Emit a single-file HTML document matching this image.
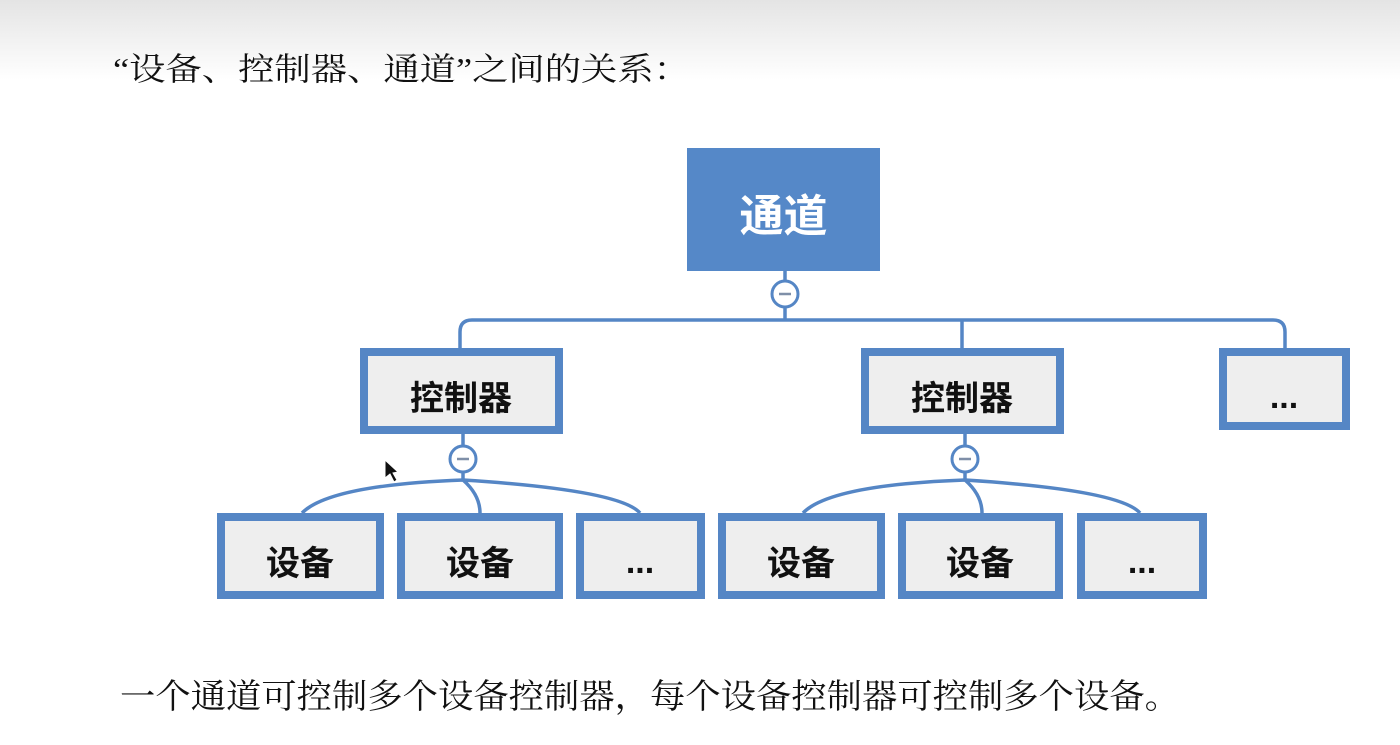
<!DOCTYPE html>
<html><head><meta charset="utf-8"><style>
html,body{margin:0;padding:0;width:1400px;height:745px;overflow:hidden;background:#fff}
</style></head><body>
<svg width="1400" height="745" viewBox="0 0 1400 745" xmlns="http://www.w3.org/2000/svg">
<defs><linearGradient id="g" x1="0" y1="0" x2="0" y2="1"><stop offset="0" stop-color="#e4e4e4"/><stop offset="1" stop-color="#ffffff"/></linearGradient></defs>
<rect width="1400" height="80" fill="url(#g)"/>
<g font-family="'Liberation Serif','Noto Serif CJK SC',serif" fill="#111">
<text x="113" y="80" font-size="32" textLength="577" lengthAdjust="spacingAndGlyphs">“设备、控制器、通道”之间的关系：</text>
<text x="120" y="708" font-size="34" textLength="1060" lengthAdjust="spacingAndGlyphs">一个通道可控制多个设备控制器，每个设备控制器可控制多个设备。</text>
</g>
<g fill="none" stroke="#5586c5" stroke-width="3.5">
<path d="M785 271V320M460 348V332Q460 320 472 320H1273Q1285 320 1285 332V348M962 320Q962 326 962 348"/>
<path d="M463 434V480M965 434V480"/>
<path d="M463 480Q330 485 302 513M463 480Q480 495 480 513M463 480Q620 490 640 513"/>
<path d="M965 480Q830 485 803 513M965 480Q982 495 982 513M965 480Q1120 490 1140 513"/>
</g>
<g fill="#fff" stroke="#5586c5" stroke-width="3">
<circle cx="785" cy="294" r="13"/><circle cx="463" cy="459" r="13"/><circle cx="965" cy="459" r="13"/>
</g>
<g stroke="#7f8fa8" stroke-width="2.5"><path d="M779 294H791M457 459H469M959 459H971"/></g>
<rect x="687" y="148" width="193" height="123" fill="#5588c8"/>
<text x="783.5" y="231" font-size="44" font-weight="bold" fill="#fff" text-anchor="middle" font-family="'Liberation Sans','Noto Sans CJK SC',sans-serif">通道</text>
<g fill="#eeeeee" stroke="#5586c5" stroke-width="8">
<rect x="364" y="352" width="195" height="78"/>
<rect x="865" y="352" width="195" height="78"/>
<rect x="1223" y="352" width="123" height="74"/>
<rect x="221" y="517" width="159" height="78"/>
<rect x="401" y="517" width="158" height="78"/>
<rect x="580" y="517" width="121" height="78"/>
<rect x="722" y="517" width="159" height="78"/>
<rect x="902" y="517" width="157" height="78"/>
<rect x="1081" y="517" width="122" height="78"/>
</g>
<g font-family="'Liberation Sans','Noto Sans CJK SC',sans-serif" font-size="34" font-weight="bold" fill="#111" text-anchor="middle">
<text x="461" y="410">控制器</text>
<text x="962" y="410">控制器</text>
<text x="1284" y="408">...</text>
<text x="300" y="575">设备</text>
<text x="480" y="575">设备</text>
<text x="640" y="573">...</text>
<text x="801" y="575">设备</text>
<text x="980" y="575">设备</text>
<text x="1142" y="573">...</text>
</g>
<path d="M385 460L385 478L390 474L394 482L397 480L393 473L398 472Z" fill="#111" stroke="#fff" stroke-width="1"/>
</svg>
</body></html>
